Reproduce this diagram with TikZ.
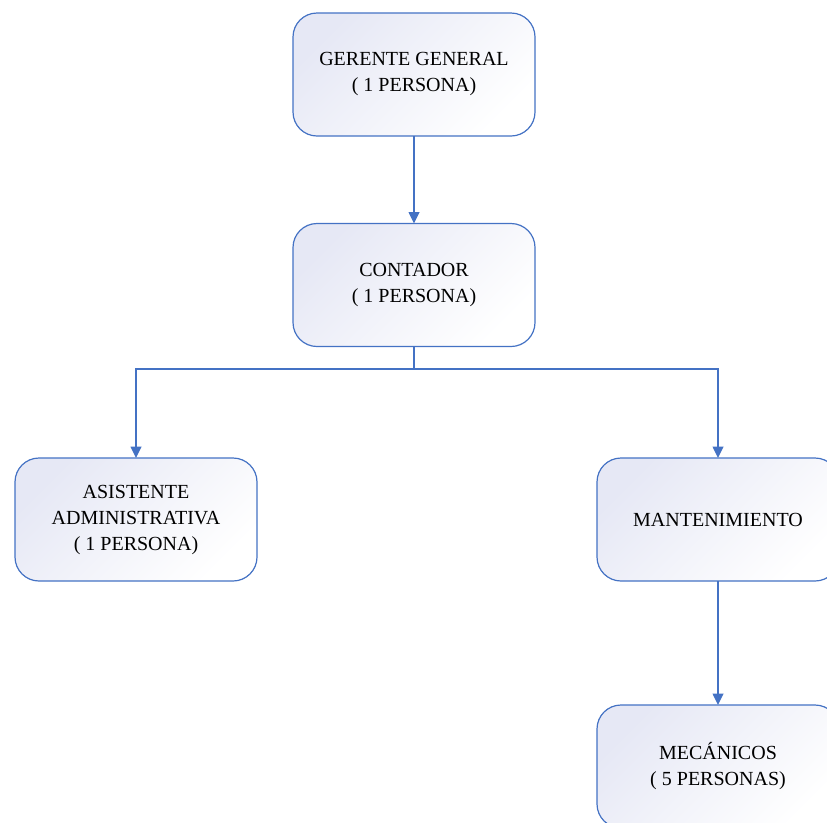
\documentclass[tikz,border=0pt]{standalone}
\usepackage{fontspec}
\setmainfont{Liberation Serif}
\usetikzlibrary{arrows.meta}
\definecolor{lineblue}{RGB}{68,114,196}
\definecolor{lav}{RGB}{230,232,245}
\tikzset{
  orgbox/.style={draw=lineblue, line width=0.9pt, rounded corners=18pt,
    shading=axis, top color=lav, bottom color=white, shading angle=45,
    minimum width=181.5pt, minimum height=92.25pt, inner sep=0pt, outer sep=0pt,
    align=center, font=\fontsize{15}{19.5}\selectfont, text=black},
  conn/.style={draw=lineblue, line width=1.1pt, -{Triangle[length=8.5pt,width=8pt]}}
}
\begin{document}
\begin{tikzpicture}[x={(0.75pt,0)}, y={(0,-0.75pt)}]
\useasboundingbox (0,0) rectangle (827,822);
\clip (0,0) rectangle (827,822);
\node[orgbox] (ger) at (414,74.5) {GERENTE GENERAL\\( 1 PERSONA)};
\node[orgbox] (con) at (414,285) {CONTADOR\\( 1 PERSONA)};
\node[orgbox] (asi) at (136,519.5) {ASISTENTE\\ADMINISTRATIVA\\( 1 PERSONA)};
\node[orgbox] (man) at (718,519.5) {MANTENIMIENTO};
\node[orgbox] (mec) at (718,766.5) {MEC\'ANICOS\\( 5 PERSONAS)};
\coordinate (j) at (414,369);
\draw[conn] (ger.south) -- (con.north);
\draw[draw=lineblue, line width=1.1pt] (con.south) -- (j);
\draw[conn] (j) -| (asi.north);
\draw[conn] (j) -| (man.north);
\draw[conn] (man.south) -- (mec.north);
\end{tikzpicture}
\end{document}
